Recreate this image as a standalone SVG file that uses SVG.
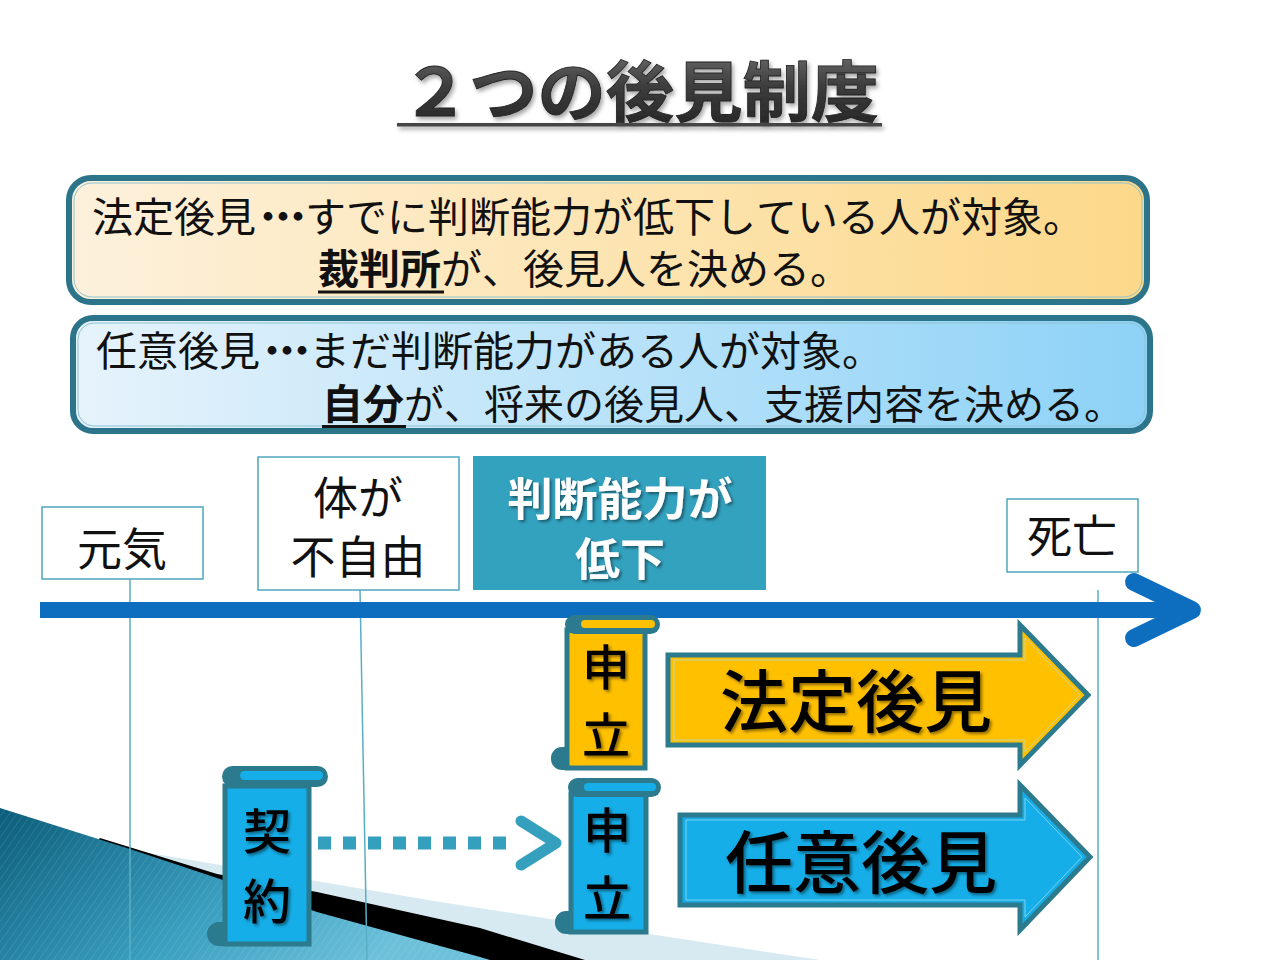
<svg xmlns="http://www.w3.org/2000/svg" width="1280" height="960" viewBox="0 0 1280 960">
<style>
.jp{font-family:"Noto Sans CJK JP","Noto Sans",sans-serif;font-kerning:none;}
.boxtxt{font-size:41px;fill:#111;}
.lbl{font-size:45px;fill:#111;text-anchor:middle;}
.scroll-t{font-size:48px;fill:#000;text-anchor:middle;font-weight:500;}
.big{font-size:68px;fill:#000;font-weight:500;}
.vline{stroke:#5aaec4;stroke-width:1.5;fill:none;}
.frame{fill:#fff;stroke:#4ea6bd;stroke-width:1.5;}
.sc-stroke{stroke:#2b7a8e;stroke-width:5;}
</style>
<defs>
<linearGradient id="gYel" x1="0" y1="0" x2="1" y2="0">
<stop offset="0" stop-color="#fdf1dc"/><stop offset="1" stop-color="#fcd889"/>
</linearGradient>
<linearGradient id="gBlu" x1="0" y1="0" x2="1" y2="0">
<stop offset="0" stop-color="#e6f3fb"/><stop offset="1" stop-color="#8dd2f7"/>
</linearGradient>
<linearGradient id="gTeal" x1="0" y1="0" x2="1" y2="0.4">
<stop offset="0" stop-color="#0b5d7a"/><stop offset="0.6" stop-color="#3a9fc0"/><stop offset="1" stop-color="#6cc0da"/>
</linearGradient>
<linearGradient id="gTitle" x1="0" y1="0" x2="0" y2="1">
<stop offset="0" stop-color="#7a7a7a"/><stop offset="0.5" stop-color="#3c3c3c"/><stop offset="1" stop-color="#222"/>
</linearGradient>
<pattern id="stripes" width="6" height="6" patternUnits="userSpaceOnUse" patternTransform="rotate(35)">
<rect width="6" height="6" fill="none"/><line x1="0" y1="0" x2="0" y2="6" stroke="#ffffff" stroke-opacity="0.12" stroke-width="1.5"/>
</pattern>
<filter id="sh" x="-10%" y="-10%" width="130%" height="130%">
<feDropShadow dx="2" dy="2" stdDeviation="1.5" flood-color="#000" flood-opacity="0.45"/>
</filter>
<filter id="shT" x="-5%" y="-20%" width="115%" height="160%">
<feDropShadow dx="2" dy="3" stdDeviation="2" flood-color="#000" flood-opacity="0.35"/>
</filter>
</defs>
<rect width="1280" height="960" fill="#ffffff"/>

<!-- bottom-left decoration -->
<g id="decoration">
<polygon points="120,848 440,902 820,960 0,960" fill="#d7e9f1"/>
<polygon points="100,838 217,874 317,892 480,928 585,960 0,960" fill="#000"/>
<polygon points="0,808 130,849 217,878 317,912 480,957 490,960 0,960" fill="url(#gTeal)"/>
<polygon points="0,808 130,849 217,878 317,912 480,957 490,960 0,960" fill="url(#stripes)"/>
</g>

<!-- title -->
<g id="title" filter="url(#shT)">
<text x="640" y="116" class="jp" font-size="66" font-weight="700" text-anchor="middle" fill="url(#gTitle)" stroke="#222" stroke-width="0.8" textLength="478" lengthAdjust="spacingAndGlyphs">２つの後見制度</text>
<rect x="397" y="123" width="485" height="3.5" fill="#444"/>
</g>

<!-- description boxes -->
<g id="box-houtei">
<rect x="69" y="178" width="1078" height="124" rx="22" fill="url(#gYel)" stroke="#2b7489" stroke-width="6"/>
<rect x="74" y="183" width="1068" height="114" rx="18" fill="none" stroke="#8fc3d0" stroke-width="1"/>
<text class="jp boxtxt" x="92" y="232" dx="0 0 0 0 -8.5 -26 -26 -13.5">法定後見・・・すでに判断能力が低下している人が対象。</text>
<text class="jp boxtxt" x="318" y="284"><tspan font-weight="700">裁判所</tspan>が、後見人を決める。</text>
<rect x="318" y="290.5" width="126" height="3" fill="#111"/>
</g>
<g id="box-nini">
<rect x="73" y="318" width="1077" height="113" rx="20" fill="url(#gBlu)" stroke="#2b7489" stroke-width="6"/>
<rect x="78" y="323" width="1067" height="103" rx="16" fill="none" stroke="#8fc3d0" stroke-width="1"/>
<text class="jp boxtxt" x="96" y="366" dx="0 0 0 0 -8.5 -26 -26 -13.5">任意後見・・・まだ判断能力がある人が対象。</text>
<text class="jp boxtxt" x="322" y="419"><tspan font-weight="700">自分</tspan><tspan style="font-size:40px">が、将来の後見人、支援内容を決める。</tspan></text>
<rect x="322" y="425" width="84" height="3" fill="#111"/>
</g>

<!-- connectors: timeline, vertical guides, dotted arrow -->
<g id="connectors">
<line class="vline" x1="130" y1="579" x2="130" y2="960"/>
<line class="vline" x1="360" y1="590" x2="367" y2="960"/>
<line class="vline" x1="1098" y1="590" x2="1098" y2="960"/>
<line x1="40" y1="610" x2="1188" y2="610" stroke="#0d6ec0" stroke-width="16"/>
<polyline points="1134,582 1192,610 1134,638" fill="none" stroke="#0d6ec0" stroke-width="18" stroke-linecap="round" stroke-linejoin="round"/>
<line x1="318" y1="843" x2="510" y2="843" stroke="#35a0bd" stroke-width="13" stroke-dasharray="13 12"/>
<polyline points="521,821 556,843 521,865" fill="none" stroke="#35a0bd" stroke-width="11" stroke-linecap="round" stroke-linejoin="round"/>
</g>

<!-- timeline labels -->
<g id="node-genki">
<rect class="frame" x="42" y="507" width="161" height="72"/>
<text class="jp lbl" x="122" y="566">元気</text>
</g>
<g id="node-karada">
<rect class="frame" x="258" y="457" width="201" height="133"/>
<text class="jp lbl" x="358" y="515">体が</text>
<text class="jp lbl" x="358" y="574">不自由</text>
</g>
<g id="node-handan">
<rect x="473" y="456" width="293" height="134" fill="#33a2bf"/>
<text class="jp" x="620" y="516" font-size="45" font-weight="700" fill="#fff" text-anchor="middle" filter="url(#sh)">判断能力が</text>
<text class="jp" x="620" y="576" font-size="45" font-weight="700" fill="#fff" text-anchor="middle" filter="url(#sh)">低下</text>
</g>
<g id="node-shibou">
<rect class="frame" x="1007" y="499" width="131" height="73"/>
<text class="jp lbl" x="1072" y="553">死亡</text>
</g>

<!-- scrolls -->
<g id="scroll-moushitate-houtei">
<rect x="551" y="747" width="28" height="23" rx="11" fill="#2b7a8e"/>
<rect x="567" y="630" width="78" height="138" fill="#ffc000" class="sc-stroke"/>
<rect x="565" y="615" width="95" height="19" rx="9.5" fill="#2b7a8e"/>
<rect x="581" y="620" width="74" height="8" rx="4" fill="#ffc000"/>
<text class="jp scroll-t" x="606" y="685" filter="url(#sh)">申</text>
<text class="jp scroll-t" x="606" y="753" filter="url(#sh)">立</text>
</g>
<g id="scroll-moushitate-nini">
<rect x="555" y="911" width="28" height="23" rx="11" fill="#2b7a8e"/>
<rect x="571" y="794" width="75" height="138" fill="#15aee8" class="sc-stroke"/>
<rect x="568" y="778" width="93" height="19" rx="9.5" fill="#2b7a8e"/>
<rect x="584" y="783" width="72" height="8" rx="4" fill="#15aee8"/>
<text class="jp scroll-t" x="607" y="848" filter="url(#sh)">申</text>
<text class="jp scroll-t" x="607" y="916" filter="url(#sh)">立</text>
</g>
<g id="scroll-keiyaku">
<rect x="207" y="922" width="30" height="24" rx="12" fill="#2b7a8e"/>
<rect x="225" y="786" width="84" height="158" fill="#15aee8" class="sc-stroke"/>
<rect x="222" y="766" width="106" height="21" rx="10.5" fill="#2b7a8e"/>
<rect x="240" y="771" width="83" height="9" rx="4.5" fill="#15aee8"/>
<text class="jp scroll-t" x="267" y="849" filter="url(#sh)">契</text>
<text class="jp scroll-t" x="267" y="919" filter="url(#sh)">約</text>
</g>

<!-- block arrows -->
<g id="arrow-houtei">
<polygon points="668,655 1020,655 1020,625 1088,695 1020,765 1020,745 668,745" fill="#ffc000" stroke="#2b7a8e" stroke-width="5" stroke-linejoin="miter"/>
<polygon points="674,660 1025,660 1025,638 1080,695 1025,752 1025,740 674,740" fill="none" stroke="#c8d6a0" stroke-width="1"/>
<text class="jp big" x="720" y="727" filter="url(#sh)">法定後見</text>
</g>
<g id="arrow-nini">
<polygon points="680,815 1020,815 1020,785 1090,857 1020,930 1020,905 680,905" fill="#15aee8" stroke="#2b7a8e" stroke-width="5" stroke-linejoin="miter"/>
<polygon points="686,820 1025,820 1025,798 1082,857 1025,917 1025,900 686,900" fill="none" stroke="#7fd0ee" stroke-width="1"/>
<text class="jp big" x="725" y="888" filter="url(#sh)">任意後見</text>
</g>
</svg>
